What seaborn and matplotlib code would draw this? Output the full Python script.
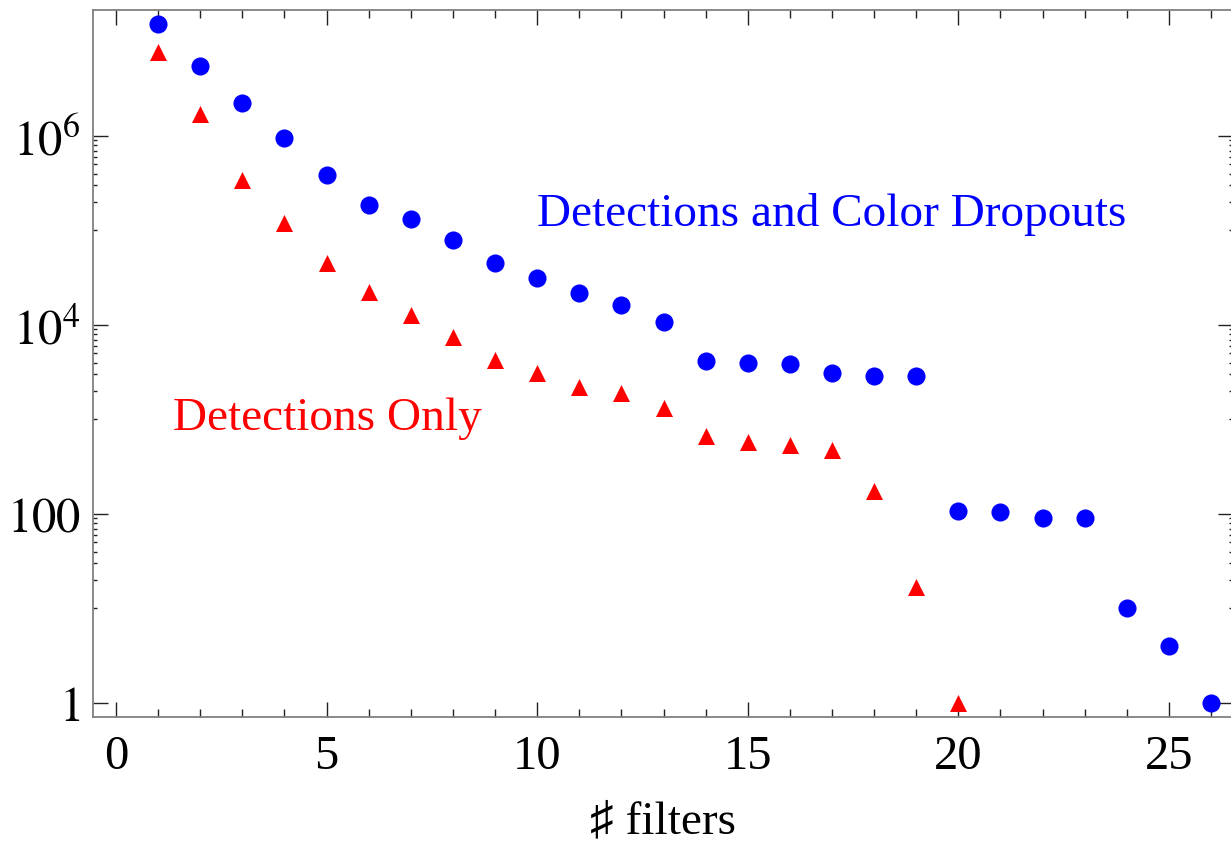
import matplotlib
matplotlib.use("Agg")
import matplotlib.pyplot as plt
import pandas as pd
import seaborn as sns

# Number of sources vs. number of filters
n_filters = list(range(1, 27))
color_dropouts = [1.53e7, 5.55e6, 2.23e6, 9.45e5, 3.9e5, 1.88e5, 1.32e5, 7.9e4,
                  4.5e4, 3.14e4, 2.2e4, 1.64e4, 1.07e4, 4190, 3930, 3870, 3100,
                  2910, 2850, 108, 104, 91, 91, 10, 4, 1]

n_filters_det = list(range(1, 21))
detections_only = [7.8e6, 1.71e6, 3.46e5, 1.19e5, 4.55e4, 2.22e4, 1.28e4, 7460,
                   4300, 3120, 2220, 1910, 1330, 668, 573, 532, 472, 174, 17, 1]

x_ticks = [0, 5, 10, 15, 20, 25]
y_ticks = [1, 100, 1e4, 1e6]
y_tick_labels = ["$1$", "$100$", "$10^{4}$", "$10^{6}$"]

label_dropouts = "Detections and Color Dropouts"
label_detections = "Detections Only"
x_label = "\u266f filters"

sns.set_style("ticks")
plt.rcParams["font.family"] = ["Liberation Serif", "DejaVu Serif", "DejaVu Sans"]
plt.rcParams["mathtext.fontset"] = "stix"

W, H = 1231, 845
fig = plt.figure(figsize=(W / 100, H / 100), dpi=100)
ax = fig.add_axes([93 / W, 127 / H, (1233 - 93) / W, (718 - 11) / H])

df_b = pd.DataFrame({"filters": n_filters, "count": color_dropouts})
df_r = pd.DataFrame({"filters": n_filters_det, "count": detections_only})

sns.scatterplot(data=df_r, x="filters", y="count", ax=ax, marker="^", s=150,
                color="#ff0000", linewidth=0, zorder=3)
sns.scatterplot(data=df_b, x="filters", y="count", ax=ax, marker="o", s=170,
                color="#0000ff", linewidth=0, zorder=3)

ax.set_yscale("log")
ax.set_xlim(-0.544, 26.52)
ax.set_ylim(0.71, 2.153e7)

ax.set_xticks(x_ticks)
ax.set_xticks(list(range(0, 27)), minor=True)
ax.set_xticklabels([str(t) for t in x_ticks])
ax.set_yticks(y_ticks)
ax.set_yticklabels(y_tick_labels)
ax.set_yticks([k * 10 ** e for e in (1, 3, 5) for k in range(1, 10)], minor=True)
ax.yaxis.set_minor_formatter(matplotlib.ticker.NullFormatter())

ax.tick_params(which="both", direction="in", top=True, right=True,
               color="#222222", width=1.0, labelsize=35, labelcolor="black")
ax.tick_params(axis="x", which="major", length=10.5, pad=12)
ax.tick_params(axis="x", which="minor", length=5.8)
ax.tick_params(axis="y", which="major", length=10.5, pad=9)
ax.tick_params(axis="y", which="minor", length=3.0)

for side in ("left", "right", "top", "bottom"):
    ax.spines[side].set_color("#808080")
    ax.spines[side].set_linewidth(1.3)

ax.set_ylabel("")
ax.set_xlabel(x_label, fontsize=34, labelpad=16, color="black")

ax.text(10.0, 1.14e5, label_dropouts, color="#0000ff", fontsize=34,
        ha="left", va="baseline")
ax.text(1.36, 794, label_detections, color="#ff0000", fontsize=34,
        ha="left", va="baseline")

fig.savefig("out.png", dpi=100, facecolor="white")
